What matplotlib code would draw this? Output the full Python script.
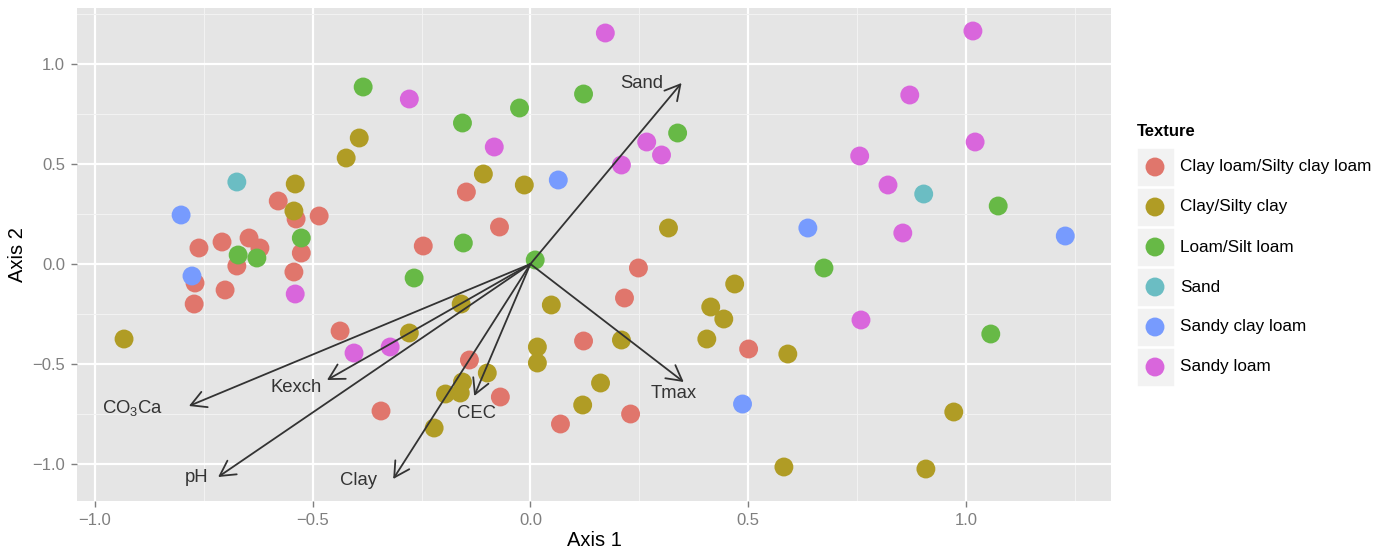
import numpy as np
import matplotlib.pyplot as plt
from matplotlib.patches import Rectangle

plt.rcParams['font.family'] = ['Liberation Sans', 'DejaVu Sans']
plt.rcParams['mathtext.default'] = 'regular'

# texture classes and their colours
textures = ["Clay loam/Silty clay loam", "Clay/Silty clay", "Loam/Silt loam",
            "Sand", "Sandy clay loam", "Sandy loam"]
texture_colors = ["#E0766C", "#B09C25", "#67B946", "#6BBDC3", "#779BFE", "#D966DC"]

# site scores (Axis 1, Axis 2) per texture
clay_loam_x = [-0.579, -0.538, -0.485, -0.526, -0.543, -0.646, -0.621, -0.674, -0.708,
               -0.761, -0.770, -0.701, -0.772, -0.437, -0.147, -0.071, -0.246, -0.140,
               -0.069, -0.343, 0.216, 0.122, 0.069, 0.230, 0.248, 0.501]
clay_loam_y = [0.315, 0.225, 0.240, 0.055, -0.040, 0.130, 0.080, -0.010, 0.110,
               0.080, -0.095, -0.130, -0.200, -0.335, 0.360, 0.185, 0.090, -0.480,
               -0.665, -0.735, -0.170, -0.385, -0.800, -0.750, -0.020, -0.425]

clay_x = [-0.423, -0.393, -0.540, -0.543, -0.933, -0.108, -0.014, 0.317, -0.278, -0.159,
          -0.099, -0.156, -0.195, -0.161, -0.221, 0.048, 0.209, 0.016, 0.016, 0.161,
          0.120, 0.469, 0.414, 0.444, 0.405, 0.591, 0.582, 0.972, 0.908]
clay_y = [0.530, 0.630, 0.400, 0.265, -0.375, 0.450, 0.395, 0.180, -0.345, -0.200,
          -0.545, -0.590, -0.650, -0.645, -0.820, -0.205, -0.380, -0.415, -0.495, -0.595,
          -0.705, -0.100, -0.215, -0.275, -0.375, -0.450, -1.015, -0.740, -1.025]

loam_x = [-0.384, -0.156, -0.025, 0.122, 0.338, -0.526, -0.628, -0.671, -0.154, 0.011,
          -0.267, 0.674, 1.074, 1.057]
loam_y = [0.885, 0.705, 0.780, 0.850, 0.655, 0.130, 0.030, 0.045, 0.105, 0.020,
          -0.070, -0.020, 0.290, -0.350]

sand_x = [-0.674, 0.903]
sand_y = [0.410, 0.350]

sandy_clay_x = [-0.802, -0.777, 0.064, 0.637, 1.228, 0.487]
sandy_clay_y = [0.245, -0.060, 0.420, 0.180, 0.140, -0.700]

sandy_loam_x = [-0.540, -0.278, -0.083, -0.405, -0.322, 0.172, 0.267, 0.301, 0.209,
                1.016, 0.871, 1.021, 0.756, 0.821, 0.855, 0.759]
sandy_loam_y = [-0.150, 0.825, 0.585, -0.445, -0.415, 1.155, 0.610, 0.545, 0.495,
                1.165, 0.845, 0.610, 0.540, 0.395, 0.155, -0.280]

# environmental vectors
vector_names = ["Sand", "Tmax", "CEC", "Clay", "Kexch", "CO$_3$Ca", "pH"]
vector_x = [0.347, 0.352, -0.129, -0.315, -0.467, -0.784, -0.717]
vector_y = [0.905, -0.590, -0.660, -1.075, -0.580, -0.710, -1.065]
label_x = [0.255, 0.329, -0.124, -0.395, -0.538, -0.913, -0.766]
label_y = [0.900, -0.650, -0.745, -1.080, -0.620, -0.720, -1.065]

groups = [(clay_loam_x, clay_loam_y), (clay_x, clay_y), (loam_x, loam_y),
          (sand_x, sand_y), (sandy_clay_x, sandy_clay_y), (sandy_loam_x, sandy_loam_y)]

fig = plt.figure(figsize=(13.8, 5.5), dpi=100)
ax = fig.add_axes([77 / 1380, 49 / 550, (1111 - 77) / 1380, (501 - 8) / 550])
ax.set_facecolor("#E5E5E5")

for (gx, gy), col in zip(groups, texture_colors):
    ax.scatter(gx, gy, s=185, color=col, edgecolors="none", zorder=3)

for name, vx, vy, lx, ly in zip(vector_names, vector_x, vector_y, label_x, label_y):
    ax.annotate("", xy=(vx, vy), xytext=(0, 0),
                arrowprops=dict(arrowstyle="->,head_length=0.6,head_width=0.33",
                                color="#333333", lw=1.3, mutation_scale=18,
                                shrinkA=0, shrinkB=0), zorder=4)
    ax.text(lx, ly, name, fontsize=13.3, color="#333333", ha="center", va="center", zorder=5)

ax.set_xlim(-1.041, 1.333)
ax.set_ylim(-1.185, 1.28)
ax.set_xticks([-1.0, -0.5, 0.0, 0.5, 1.0])
ax.set_yticks([-1.0, -0.5, 0.0, 0.5, 1.0])
ax.set_xticks([-0.75, -0.25, 0.25, 0.75, 1.25], minor=True)
ax.set_yticks([-0.75, -0.25, 0.25, 0.75, 1.25], minor=True)
ax.grid(True, which="major", color="white", lw=1.6)
ax.grid(True, which="minor", color="#F2F2F2", lw=0.8)
ax.set_axisbelow(True)
for sp in ax.spines.values():
    sp.set_visible(False)
ax.tick_params(which="major", length=4, width=1, color="#7F7F7F",
               labelcolor="#7F7F7F", labelsize=12, pad=4.5)
ax.tick_params(which="minor", length=0)
ax.set_xlabel("Axis 1", fontsize=14.5, labelpad=2)
ax.set_ylabel("Axis 2", fontsize=14.5, labelpad=4)

# legend drawn in pixel coordinates of the figure
lax = fig.add_axes([0, 0, 1, 1])
lax.set_xlim(0, 1380)
lax.set_ylim(550, 0)
lax.axis("off")
lax.text(1137, 131, "Texture", fontsize=12, fontweight="bold", ha="left", va="center")
for i, (lab, col) in enumerate(zip(textures, texture_colors)):
    cy = 167 + 40 * i
    lax.add_patch(Rectangle((1137, cy - 19.5), 38, 39, facecolor="#F2F2F2",
                            edgecolor="white", lw=1.2))
    lax.scatter([1155], [cy], s=185, color=col, edgecolors="none")
    lax.text(1180, cy, lab, fontsize=12.3, ha="left", va="center")

plt.savefig("out.png", dpi=100)
